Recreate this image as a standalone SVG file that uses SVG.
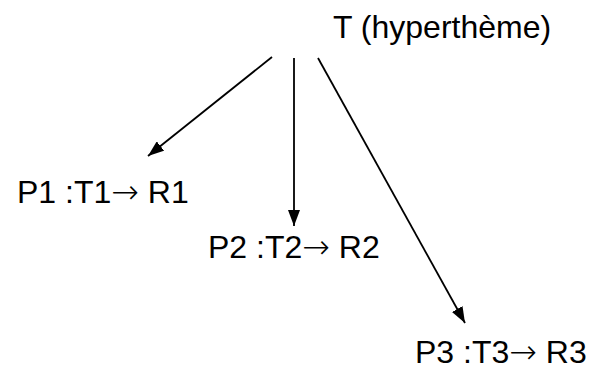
<svg xmlns="http://www.w3.org/2000/svg" width="593" height="371" viewBox="0 0 593 371">
<style>
text{font-family:"Liberation Sans",Arial,sans-serif;font-size:32px;fill:#000}
.ar{font-family:"DejaVu Sans",sans-serif;font-size:33px;font-weight:200}
.c line{stroke:#000;stroke-width:1.8;fill:none}
</style>
<defs>
<marker id="ah" viewBox="0 0 16 12" refX="16" refY="6" markerWidth="16" markerHeight="12" markerUnits="userSpaceOnUse" orient="auto">
<path d="M0,0L16,6L0,12z" fill="#000"/>
</marker>
</defs>
<rect width="593" height="371" fill="#fff"/>
<g id="T"><text x="333" y="38">T (hyperthème)</text></g>
<g id="P1"><text x="17" y="203">P1 :T1<tspan class="ar">→</tspan> R1</text></g>
<g id="P2"><text x="208" y="258">P2 :T2<tspan class="ar">→</tspan> R2</text></g>
<g id="P3"><text x="415" y="363">P3 :T3<tspan class="ar">→</tspan> R3</text></g>
<g class="c" id="connectors">
<line x1="272" y1="57" x2="148" y2="156" marker-end="url(#ah)"/>
<line x1="294" y1="58" x2="294" y2="226" marker-end="url(#ah)"/>
<line x1="318" y1="58" x2="465" y2="323" marker-end="url(#ah)"/>
</g>
</svg>
